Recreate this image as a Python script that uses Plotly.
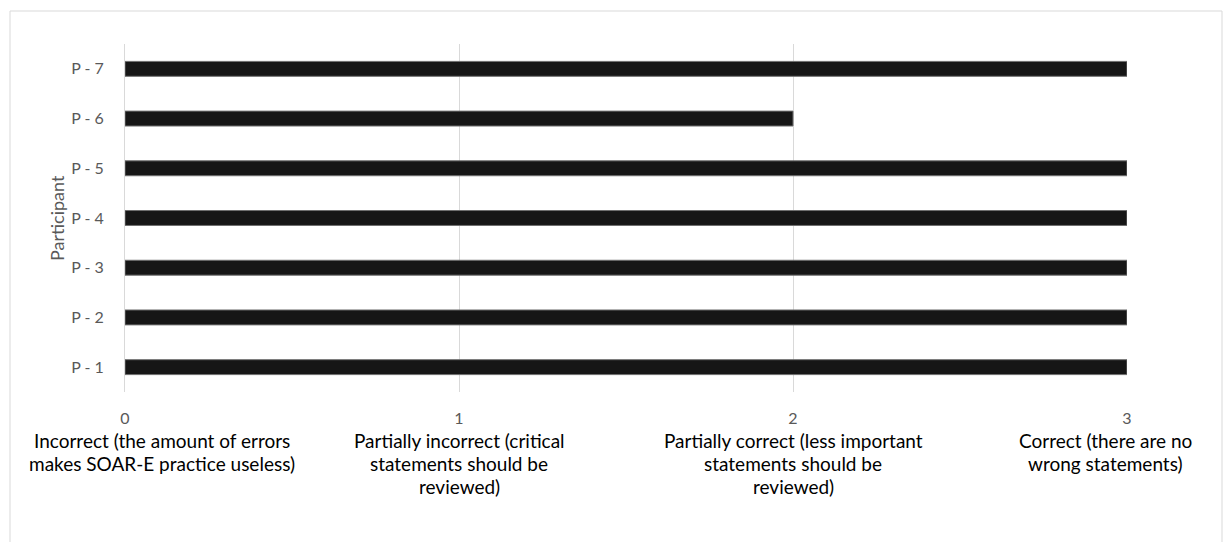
import plotly.graph_objects as go

# Participant ratings on the 0-3 correctness scale
participants = ["P - 1", "P - 2", "P - 3", "P - 4", "P - 5", "P - 6", "P - 7"]
scores = [3, 3, 3, 3, 3, 2, 3]

# Scale points and their descriptions shown under the axis
scale_values = [0, 1, 2, 3]
scale_labels = [
    "Incorrect (the amount of errors<br>makes SOAR-E practice useless)",
    "Partially incorrect (critical<br>statements should be<br>reviewed)",
    "Partially correct (less important<br>statements should be<br>reviewed)",
    "Correct (there are no<br>wrong statements)",
]
# horizontal nudge of each description (in axis units) so the outer ones stay inside
label_shift = [0.11, 0.0, 0.0, -0.063]

FONT = "Lato, 'Open Sans', sans-serif"
W, H = 1226, 542
ML, MR, MT, MB = 125, 99, 44, 150
PW, PH = W - ML - MR, H - MT - MB
LINE_GAP = 23  # px between description lines

fig = go.Figure(
    go.Bar(
        x=scores,
        y=participants,
        orientation="h",
        width=0.3,
        marker=dict(color="#161616", line=dict(color="#6e6e6e", width=1)),
    )
)

annotations = []
for v, txt, s in zip(scale_values, scale_labels, label_shift):
    for i, line in enumerate(txt.split("<br>")):
        annotations.append(dict(
            x=v + s, xref="x", y=0, yref="paper", yshift=-35 - LINE_GAP * i,
            text=line, showarrow=False, align="center",
            xanchor="center", yanchor="top",
            font=dict(family=FONT, size=19, color="#000000"),
        ))
annotations.append(dict(
    x=(57 - ML) / PW, xref="paper", y=0.5, yref="paper",
    text="Participant", textangle=-90, showarrow=False,
    xanchor="center", yanchor="middle",
    font=dict(family=FONT, size=18, color="#595959"),
))

# chart frame (light grey border, open at the bottom of the view)
fx0 = (10 - ML) / PW
fx1 = (1222 - ML) / PW
fy1 = (PH + MT - 11) / PH
fy0 = -(H + 10 - MT - PH) / PH
shapes = [dict(type="rect", xref="paper", yref="paper",
               x0=fx0, x1=fx1, y0=fy0, y1=fy1,
               line=dict(color="#d9d9d9", width=1), layer="below")]

fig.update_layout(
    width=W, height=H,
    margin=dict(l=ML, r=MR, t=MT, b=MB),
    paper_bgcolor="white", plot_bgcolor="white",
    showlegend=False,
    annotations=annotations,
    shapes=shapes,
    xaxis=dict(
        range=[0, 3], tickvals=scale_values, ticktext=[str(v) for v in scale_values],
        showgrid=True, gridcolor="#d9d9d9", gridwidth=1,
        zeroline=False, showline=False, ticks="",
        ticklabelstandoff=15,
        tickfont=dict(family=FONT, size=16, color="#595959"),
    ),
    yaxis=dict(
        categoryorder="array", categoryarray=participants,
        showgrid=False, zeroline=False,
        showline=True, linecolor="#d9d9d9", linewidth=1, ticks="",
        ticklabelstandoff=17,
        tickfont=dict(family=FONT, size=16, color="#595959"),
    ),
)

fig.write_html("out.html")
